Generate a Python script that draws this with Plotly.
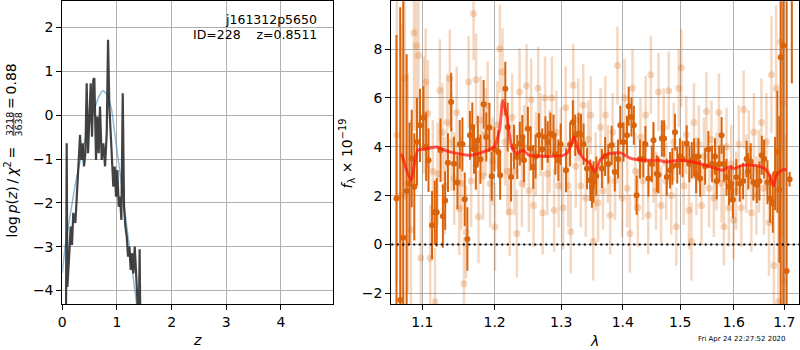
import plotly.graph_objects as go

# ---------------- left panel: p(z) ----------------
z_pz = [0.060, 0.068, 0.080, 0.092, 0.128, 0.153, 0.178, 0.200, 0.239, 0.263,
        0.288, 0.324, 0.348, 0.373, 0.397, 0.422, 0.446, 0.471, 0.495, 0.520,
        0.544, 0.568, 0.586, 0.617, 0.641, 0.666, 0.690, 0.721, 0.751, 0.782,
        0.813, 0.837, 0.861, 0.886, 0.910, 0.934, 0.959, 0.983, 1.007, 1.033,
        1.057, 1.081, 1.106, 1.130, 1.154, 1.179, 1.203, 1.227, 1.252, 1.277,
        1.300, 1.326, 1.363, 1.380, 1.400, 1.415, 1.430]
logp = [-5.0, -4.5, -0.64, -3.92, -3.15, -2.54, -2.96, -2.23, -2.46, -1.78,
        -1.32, -0.45, -1.02, -0.64, -1.17, -0.87, 0.73, -0.87, -0.11, 0.73,
        -0.49, 0.81, 0.85, -1.02, -0.03, -0.87, 0.20, -1.02, -0.64, -1.17,
        -0.41, 1.72, 0.20, -0.49, -1.02, -1.63, -1.17, -1.86, -1.25, -2.09,
        -1.86, -2.39, 0.50, -2.09, -2.54, -2.77, -3.23, -3.00, -3.53, -3.15,
        -3.61, -3.00, -3.92, -4.80, -4.90, -3.06, -5.00]

z_fit = [0.00, 0.05, 0.11, 0.17, 0.23, 0.29, 0.355, 0.42, 0.476, 0.54,
         0.60, 0.66, 0.72, 0.751, 0.80, 0.85, 0.904, 0.95, 0.996, 1.04,
         1.088, 1.13, 1.179, 1.225, 1.271, 1.315, 1.362, 1.40]
logp_fit = [-3.60, -3.00, -2.54, -2.05, -1.63, -1.25, -0.87, -0.55, -0.26, -0.02,
            0.20, 0.40, 0.54, 0.56, 0.50, 0.38, 0.12, -0.28, -0.72, -1.17,
            -1.63, -2.06, -2.54, -3.00, -3.46, -3.90, -4.30, -4.70]

# ---------------- right panel: spectrum ----------------
dark_lam = [1.0664, 1.0712, 1.0751, 1.0795, 1.0832, 1.0861, 1.0895, 1.0930, 1.0970, 1.1014,
            1.1051, 1.1083, 1.1130, 1.1166, 1.1193, 1.1244, 1.1276, 1.1307, 1.1345, 1.1389,
            1.1428, 1.1475, 1.1507, 1.1544, 1.1576, 1.1613, 1.1649, 1.1682, 1.1707, 1.1732,
            1.1760, 1.1797, 1.1842, 1.1880, 1.1925, 1.1958, 1.1997, 1.2054, 1.2080, 1.2155,
            1.2190, 1.2240, 1.2283, 1.2331, 1.2370, 1.2406, 1.2430, 1.2490, 1.2531, 1.2571,
            1.2606, 1.2656, 1.2707, 1.2756, 1.2791, 1.2832, 1.2881, 1.2907, 1.2956, 1.2992,
            1.3076, 1.3140, 1.3184, 1.3221, 1.3274, 1.3313, 1.3355, 1.3410, 1.3463, 1.3490,
            1.3516, 1.3560, 1.3652, 1.3705, 1.3759, 1.3813, 1.3866, 1.3919, 1.3958, 1.4012,
            1.4070, 1.4100, 1.4147, 1.4187, 1.4235, 1.4292, 1.4350, 1.4385, 1.4438, 1.4497,
            1.4526, 1.4585, 1.4613, 1.4673, 1.4713, 1.4760, 1.4819, 1.4859, 1.4906, 1.4947,
            1.4995, 1.5044, 1.5118, 1.5166, 1.5211, 1.5253, 1.5290, 1.5333, 1.5364, 1.5457,
            1.5518, 1.5587, 1.5642, 1.5674, 1.5722, 1.5766, 1.5809, 1.5859, 1.5907, 1.5952,
            1.5981, 1.6048, 1.6114, 1.6180, 1.6248, 1.6280, 1.6328, 1.6380, 1.6448, 1.6500,
            1.6548, 1.6594, 1.6660, 1.6714, 1.6768, 1.6814, 1.6860, 1.6900, 1.6928, 1.6980,
            1.7049, 1.7110, 1.7156]
dark_flux = [1.88, -2.28, 0.27, 2.19, 2.50, 3.52, 2.36, 4.20, 4.88, 5.19,
             4.00, 3.45, 0.79, 1.32, 1.32, 3.86, 1.16, 1.80, 3.35, 5.83,
             3.31, 2.54, 4.10, 4.10, 1.85, 0.22, 4.47, 4.81, 3.90, 3.24,
             4.27, 3.49, 5.74, 4.40, 4.79, 2.79, 3.90, 3.79, 2.83, 6.38,
             4.81, 2.76, 4.00, 3.58, 4.13, 4.40, 3.45, 4.74, 3.93, 3.17,
             3.60, 4.47, 3.90, 4.40, 4.20, 4.54, 4.47, 3.70, 3.45, 4.10,
             3.04, 4.10, 5.01, 4.47, 4.54, 4.50, 4.10, 3.11, 2.63, 2.35,
             2.56, 2.80, 3.11, 3.60, 3.30, 4.06, 2.97, 3.50, 4.88, 4.20,
             4.47, 5.66, 5.22, 4.88, 2.02, 3.50, 3.50, 4.10, 2.70, 3.30,
             4.27, 2.90, 2.85, 4.34, 4.34, 2.76, 3.04, 3.20, 4.60, 3.25,
             3.60, 3.50, 4.13, 3.30, 3.45, 3.60, 2.85, 3.60, 2.70, 3.20,
             3.90, 3.30, 3.60, 2.60, 3.30, 4.47, 3.30, 2.75, 2.36, 2.50,
             1.83, 2.75, 2.50, 2.60, 3.50, 3.00, 3.40, 2.55, 2.45, 2.60,
             3.65, 3.50, 2.55, 1.88, 1.68, 2.90, 3.80, 2.25, 7.67, 8.15,
             -1.09, 2.67, 12.50]
dark_err = [6.7, 12.0, 10.0, 5.6, 2.5, 2.0, 2.2, 1.8, 1.5, 1.3,
            1.4, 1.3, 1.4, 1.3, 1.4, 1.3, 1.3, 1.2, 1.2, 1.2,
            1.1, 1.1, 1.0, 1.1, 1.1, 1.3, 1.0, 1.0, 1.0, 1.0,
            1.0, 1.0, 1.0, 1.0, 1.0, 1.0, 0.9, 0.9, 1.0, 1.1,
            1.0, 1.0, 0.9, 0.9, 0.9, 0.9, 0.9, 0.9, 0.9, 0.9,
            0.9, 0.9, 0.85, 0.85, 0.85, 0.85, 0.85, 0.85, 0.85, 0.85,
            0.9, 0.9, 0.9, 0.85, 0.85, 0.85, 0.85, 0.85, 0.85, 0.85,
            0.85, 0.8, 0.8, 0.8, 0.8, 0.8, 0.8, 0.8, 0.8, 0.8,
            0.8, 0.8, 0.8, 0.8, 0.8, 0.8, 0.75, 0.75, 0.75, 0.75,
            0.75, 0.75, 0.75, 0.75, 0.75, 0.75, 0.75, 0.75, 0.75, 0.75,
            0.75, 0.75, 0.75, 0.75, 0.75, 0.75, 0.75, 0.75, 0.75, 0.75,
            0.75, 0.75, 0.75, 0.75, 0.75, 0.75, 0.75, 0.75, 0.75, 0.75,
            0.75, 0.75, 0.75, 0.75, 0.75, 0.75, 0.75, 0.75, 0.75, 0.8,
            0.8, 0.8, 0.9, 1.0, 1.2, 1.5, 2.5, 3.0, 12.0, 12.0,
            12.0, 0.3, 5.9]

light_lam = [1.067, 1.072, 1.077, 1.081, 1.085, 1.089, 1.092, 1.095, 1.098, 1.102,
             1.1045, 1.1075, 1.1105, 1.114, 1.117, 1.1205, 1.1235, 1.127, 1.130, 1.1335,
             1.137, 1.1395, 1.143, 1.1465, 1.150, 1.153, 1.1565, 1.1595, 1.163, 1.1665,
             1.170, 1.1735, 1.177, 1.180, 1.1835, 1.187, 1.190, 1.1935, 1.197,
             1.2005, 1.204, 1.2075, 1.2115, 1.215, 1.2185, 1.222, 1.2255, 1.229, 1.2325,
             1.2365, 1.240, 1.2435, 1.247, 1.2505, 1.254, 1.2575, 1.261, 1.2645, 1.268,
             1.2715, 1.275, 1.2785, 1.282, 1.2855, 1.289, 1.2925, 1.296,
             1.2995, 1.303, 1.307, 1.311, 1.315, 1.319, 1.323, 1.327, 1.331, 1.335,
             1.339, 1.343, 1.347, 1.351, 1.355, 1.359, 1.363, 1.367, 1.371, 1.375,
             1.379, 1.383, 1.387, 1.391, 1.395, 1.399,
             1.403, 1.4075, 1.412, 1.4165, 1.421, 1.4255, 1.430, 1.4345, 1.439, 1.4435,
             1.448, 1.4525, 1.457, 1.4615, 1.466, 1.4705, 1.475, 1.4795, 1.484, 1.4885,
             1.493, 1.4975,
             1.502, 1.5065, 1.511, 1.516, 1.5205, 1.525, 1.5295, 1.534, 1.539, 1.5435,
             1.548, 1.553, 1.5575, 1.562, 1.567, 1.5715, 1.5765, 1.581, 1.586, 1.5905,
             1.595, 1.5995,
             1.6045, 1.6095, 1.6145, 1.619, 1.624, 1.629, 1.634, 1.639, 1.644, 1.649,
             1.654, 1.659, 1.664, 1.669, 1.674, 1.679, 1.6835, 1.688, 1.6925, 1.697,
             1.701]
light_flux = [4.47, 2.00, 6.80, 2.50, 0.60, 8.67, 8.15, 7.74, -0.56, 5.30,
              6.65, 5.36, -0.57, 3.00, -2.35, 2.90, 6.31, 4.60, 2.40, 5.00,
              6.79, 4.20, 2.70, 5.40, 1.47, 2.50, -1.60, 0.50, 6.65, 2.60,
              9.45, 6.75, 1.13, 5.10, 2.80, 4.60, 5.70, 2.49, 3.40,
              0.72, 4.90, 8.02, 7.06, 4.20, 3.00, 1.33, 5.20, 3.00, 0.45,
              6.24, 2.50, 4.00, 6.50, 2.20, 5.93, 1.60, 3.70, 6.40, 4.50,
              1.30, 6.00, 2.90, 3.80, 6.00, 1.40, 4.60, 2.40,
              3.90, 1.50, 5.60, 2.40, 0.52, 6.52, 3.20, 5.10, 2.40, 5.70,
              1.90, 4.30, 5.29, 0.12, 3.00, 1.70, 4.80, 2.20, 5.30, 3.30,
              1.20, 4.60, 2.60, 7.33, 3.50, 1.90,
              6.00, 2.30, 0.45, 6.40, 3.00, 1.50, 4.40, 2.60, 5.30, 1.20,
              6.95, 3.30, 2.20, 6.24, 1.60, 4.80, 2.60, 6.30, 2.00, 4.20,
              0.72, 6.40,
              7.24, 2.40, 4.50, 1.40, 0.12, 5.00, 2.80, 4.10, 1.60, 3.60,
              5.45, 2.30, 4.30, 1.90, 3.00, 5.40, 2.50, 0.73, 4.00, 1.50,
              3.30, 0.99,
              2.20, 4.10, 1.50, 5.53, 2.90, 3.90, 1.30, 4.60, 2.00, 3.00,
              5.00, 2.30, 4.20, 0.90, 6.95, -0.86, 6.40, -2.35, 8.30, 5.80,
              -1.50]
light_err = [6.0, 7.0, 5.0, 4.5, 4.5, 4.0, 3.5, 3.0, 2.6, 2.4,
             2.2, 2.2, 2.2, 2.1, 2.2, 2.1, 2.1, 2.0, 2.0, 2.0,
             2.0, 2.0, 1.9, 1.9, 1.9, 1.9, 1.9, 1.9, 1.9, 1.9,
             1.9, 1.9, 1.9, 1.8, 1.8, 1.8, 1.8, 1.8, 1.8,
             1.8, 1.8, 1.8, 1.8, 1.8, 1.8, 1.8, 1.8, 1.8, 1.8,
             1.8, 1.8, 1.7, 1.7, 1.7, 1.7, 1.7, 1.7, 1.7, 1.7,
             1.7, 1.7, 1.7, 1.7, 1.7, 1.7, 1.7, 1.7,
             1.7, 1.7, 1.7, 1.7, 1.7, 1.7, 1.7, 1.7, 1.7, 1.7,
             1.6, 1.6, 1.6, 1.6, 1.6, 1.6, 1.6, 1.6, 1.6, 1.6,
             1.6, 1.6, 1.6, 1.6, 1.6, 1.6,
             1.6, 1.6, 1.6, 1.6, 1.6, 1.6, 1.6, 1.6, 1.6, 1.6,
             1.6, 1.6, 1.6, 1.6, 1.6, 1.6, 1.6, 1.6, 1.6, 1.6,
             1.6, 1.6,
             1.6, 1.6, 1.6, 1.6, 1.6, 1.6, 1.6, 1.6, 1.6, 1.6,
             1.6, 1.6, 1.6, 1.6, 1.6, 1.6, 1.6, 1.6, 1.6, 1.6,
             1.6, 1.6,
             1.6, 1.6, 1.6, 1.6, 1.6, 1.6, 1.6, 1.6, 1.6, 1.7,
             1.8, 1.9, 2.0, 2.2, 2.4, 2.8, 3.4, 4.0, 4.5, 5.5,
             6.0]

model_lam = [1.073, 1.085, 1.094, 1.1016, 1.1192, 1.137, 1.165, 1.1838, 1.199, 1.207,
             1.2117, 1.218, 1.225, 1.232, 1.2415, 1.251, 1.271, 1.303, 1.311, 1.320,
             1.327, 1.335, 1.346, 1.3539, 1.362, 1.373, 1.396, 1.414, 1.438, 1.462,
             1.474, 1.500, 1.523, 1.547, 1.565, 1.578, 1.590, 1.601, 1.617, 1.637,
             1.660, 1.670, 1.6777, 1.684, 1.695, 1.705]
model_flux = [3.72, 2.63, 3.86, 3.90, 3.99, 3.79, 3.65, 3.79, 3.99, 4.67,
              5.90, 5.22, 3.99, 3.72, 3.86, 3.65, 3.61, 3.65, 3.79, 4.40,
              3.86, 3.52, 3.31, 2.97, 3.45, 3.69, 3.75, 3.52, 3.45, 3.45,
              3.38, 3.45, 3.38, 3.24, 3.11, 3.04, 3.17, 3.11, 3.24, 3.24,
              3.11, 2.83, 2.40, 2.83, 3.04, 3.07]

assert len(dark_lam) == len(dark_flux) == len(dark_err)
assert len(light_lam) == len(light_flux) == len(light_err)
assert len(z_pz) == len(logp) and len(z_fit) == len(logp_fit)
assert len(model_lam) == len(model_flux)

x_ticks_left = [0, 1, 2, 3, 4]
y_ticks_left = [-4, -3, -2, -1, 0, 1, 2]
x_ticks_right = [1.1, 1.2, 1.3, 1.4, 1.5, 1.6, 1.7]
y_ticks_right = [-2, 0, 2, 4, 6, 8]

ORANGE = "rgb(217,100,12)"
ORANGE_LIGHT = "rgba(217,100,12,0.25)"
FONT = "DejaVu Sans"

fig = go.Figure()

fig.add_trace(go.Scatter(x=z_fit, y=logp_fit, mode="lines",
                         line=dict(color="rgba(31,119,180,0.5)", width=1.5),
                         xaxis="x", yaxis="y", hoverinfo="skip"))
fig.add_trace(go.Scatter(x=z_pz, y=logp, mode="lines",
                         line=dict(color="rgba(40,40,40,0.88)", width=2.2),
                         xaxis="x", yaxis="y", hoverinfo="skip"))

fig.add_trace(go.Scatter(x=light_lam, y=light_flux, mode="markers",
                         marker=dict(color=ORANGE_LIGHT, size=7, line=dict(width=0)),
                         error_y=dict(type="data", array=light_err, color=ORANGE_LIGHT,
                                      thickness=2.5, width=0),
                         xaxis="x2", yaxis="y2", hoverinfo="skip"))
fig.add_trace(go.Scatter(x=dark_lam, y=dark_flux, mode="markers",
                         marker=dict(color=ORANGE, size=6, line=dict(width=0)),
                         error_y=dict(type="data", array=dark_err, color=ORANGE,
                                      thickness=2, width=0),
                         xaxis="x2", yaxis="y2", hoverinfo="skip"))
fig.add_trace(go.Scatter(x=model_lam, y=model_flux, mode="lines",
                         line=dict(color="rgba(255,20,10,0.7)", width=3, shape="spline",
                                   smoothing=0.6),
                         xaxis="x2", yaxis="y2", hoverinfo="skip"))

axis_common = dict(showline=True, linecolor="black", linewidth=1, mirror=True,
                   ticks="outside", ticklen=5, tickwidth=1, tickcolor="black",
                   showgrid=True, gridcolor="#b0b0b0", gridwidth=1, zeroline=False,
                   automargin=False,
                   tickfont=dict(family=FONT, size=14, color="black"))

dom_y = [0.1314, 0.9963]
fig.update_layout(
    template="none",
    width=800, height=350, autosize=False,
    margin=dict(l=0, r=0, t=0, b=0, pad=0, autoexpand=False),
    paper_bgcolor="white", plot_bgcolor="white",
    showlegend=False,
    font=dict(family=FONT, color="black"),
    xaxis=dict(domain=[0.0779, 0.4166], range=[0, 4.96], tickvals=x_ticks_left,
               anchor="y", **axis_common),
    yaxis=dict(domain=dom_y, range=[-4.31, 2.60], tickvals=y_ticks_left,
               anchor="x", **axis_common),
    xaxis2=dict(domain=[0.4891, 0.9991], type="log", range=[0.0252, 0.2383],
                tickvals=x_ticks_right, ticktext=[str(v) for v in x_ticks_right],
                anchor="y2", **axis_common),
    yaxis2=dict(domain=dom_y, range=[-2.44, 9.96], tickvals=y_ticks_right,
                anchor="x2", **axis_common),
)

fig.add_shape(type="line", xref="x2 domain", yref="y2", x0=0, x1=1, y0=0, y1=0,
              line=dict(color="black", width=2, dash="2px,3.5px"), layer="above")

def ann(text, x, y, size=14, xanchor="center", yanchor="middle", angle=0):
    fig.add_annotation(text=text, x=x / 800, y=1 - y / 350, xref="paper", yref="paper",
                       showarrow=False, xanchor=xanchor, yanchor=yanchor,
                       textangle=angle, font=dict(family=FONT, size=size, color="black"))

ann("j161312p5650", 318.5, 19.5, size=12.5, xanchor="right")
ann("ID=228\u00a0\u00a0\u00a0\u00a0z=0.8511", 318.5, 34.7, size=12.5, xanchor="right")

ann("<i>z</i>", 197, 340)
ann("<i>λ</i>", 594, 341)
ann("Fri Apr 24 22:27:52 2020", 788, 339.3, size=7, xanchor="right")

# left y-axis label (rotated, with stacked fraction)
TS = "\u2009"
ann("log" + TS + "<i>p</i>(<i>z</i>)" + TS + "/" + TS + "<i>χ</i><sup>2</sup>" + TS + "=",
    11, 240, yanchor="bottom", angle=-90)
ann("3218", 9.5, 124.5, size=9.5, angle=-90)
ann("3638", 18, 124.5, size=9.5, angle=-90)
fig.add_shape(type="line", xref="paper", yref="paper", x0=13.8 / 800, x1=13.8 / 800,
              y0=1 - 113 / 350, y1=1 - 136 / 350, line=dict(color="black", width=0.8))
ann("=" + TS + "0.88", 11, 111, yanchor="bottom", angle=-90)

ann("<i>f</i><sub>λ</sub>\u00a0×\u00a010<sup>−19</sup>", 347, 153.5, angle=-90)

fig.write_html("out.html", config={"displayModeBar": False},
               post_script="document.body.style.margin='0';document.body.style.padding='0';document.body.style.overflow='hidden';")
